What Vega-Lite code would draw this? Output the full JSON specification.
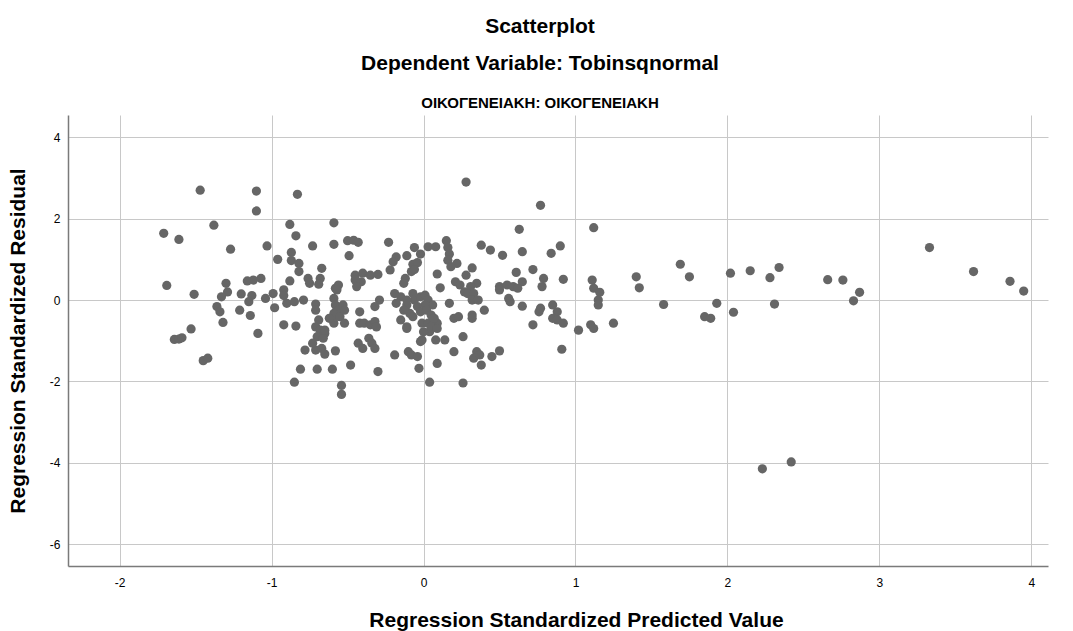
{
  "$schema": "https://vega.github.io/schema/vega-lite/v6.json",
  "width": 980,
  "height": 451,
  "autosize": {"type": "none"},
  "padding": {"left": 68, "top": 115, "right": 25, "bottom": 65},
  "background": "white",
  "config": {
    "view": {"stroke": null},
    "font": "Liberation Sans"
  },
  "title": {
    "text": ["Scatterplot", "Dependent Variable: Tobinsqnormal"],
    "subtitle": "ΟΙΚΟΓΕΝΕΙΑΚΗ: ΟΙΚΟΓΕΝΕΙΑΚΗ",
    "anchor": "middle",
    "dx": -18,
    "fontSize": 21,
    "fontWeight": "bold",
    "lineHeight": 37,
    "color": "#000000",
    "subtitleFontSize": 15,
    "subtitleFontWeight": "bold",
    "subtitleColor": "#000000",
    "subtitlePadding": 22,
    "offset": 4
  },
  "data": {
    "values": [
      {"x": -1.47, "y": 2.70}, {"x": -1.10, "y": 2.68}, {"x": -0.83, "y": 2.60}, {"x": -1.10, "y": 2.19},
      {"x": -1.38, "y": 1.84}, {"x": -1.71, "y": 1.64}, {"x": -1.61, "y": 1.49}, {"x": -0.88, "y": 1.86},
      {"x": -0.59, "y": 1.90}, {"x": -0.84, "y": 1.58}, {"x": -1.27, "y": 1.25}, {"x": -1.03, "y": 1.33},
      {"x": -0.73, "y": 1.33}, {"x": -0.59, "y": 1.37}, {"x": -0.96, "y": 1.00}, {"x": -0.87, "y": 1.17},
      {"x": -0.87, "y": 0.97}, {"x": -0.82, "y": 0.90}, {"x": -0.82, "y": 0.70}, {"x": -0.67, "y": 0.78},
      {"x": -0.76, "y": 0.53}, {"x": -0.75, "y": 0.41}, {"x": -0.68, "y": 0.53}, {"x": -0.69, "y": 0.39},
      {"x": -0.88, "y": 0.47}, {"x": -1.69, "y": 0.36}, {"x": -1.30, "y": 0.41}, {"x": -1.16, "y": 0.47},
      {"x": -1.12, "y": 0.49}, {"x": -1.07, "y": 0.53}, {"x": -1.29, "y": 0.20}, {"x": -1.33, "y": 0.08},
      {"x": -1.51, "y": 0.14}, {"x": -1.20, "y": 0.15}, {"x": -1.13, "y": 0.11}, {"x": -1.15, "y": -0.04},
      {"x": -1.04, "y": 0.04}, {"x": -0.99, "y": 0.16}, {"x": -0.92, "y": 0.25}, {"x": -0.92, "y": 0.11},
      {"x": -0.90, "y": -0.08}, {"x": -0.85, "y": -0.04}, {"x": -0.79, "y": 0.00}, {"x": -0.58, "y": 0.29},
      {"x": -0.59, "y": 0.04}, {"x": -1.36, "y": -0.16}, {"x": -1.34, "y": -0.29}, {"x": -1.21, "y": -0.25},
      {"x": -0.98, "y": -0.19}, {"x": -1.14, "y": -0.38}, {"x": -0.71, "y": -0.10}, {"x": -0.71, "y": -0.25},
      {"x": -1.32, "y": -0.55}, {"x": -0.92, "y": -0.61}, {"x": -0.84, "y": -0.64}, {"x": -1.53, "y": -0.71},
      {"x": -1.09, "y": -0.82}, {"x": -1.64, "y": -0.97}, {"x": -1.61, "y": -0.96}, {"x": -1.59, "y": -0.93},
      {"x": -0.69, "y": -0.49}, {"x": -0.71, "y": -0.66}, {"x": -0.68, "y": -0.74}, {"x": -0.65, "y": -0.82},
      {"x": -0.70, "y": -0.90}, {"x": -0.66, "y": -0.94}, {"x": -0.59, "y": -0.57}, {"x": -0.58, "y": -0.41},
      {"x": -1.45, "y": -1.49}, {"x": -1.42, "y": -1.43}, {"x": -0.78, "y": -1.23}, {"x": -0.71, "y": -1.23},
      {"x": -0.67, "y": -1.19}, {"x": -0.65, "y": -1.33}, {"x": -0.58, "y": -1.25}, {"x": -0.81, "y": -1.70},
      {"x": -0.70, "y": -1.70}, {"x": -0.60, "y": -1.70}, {"x": -0.85, "y": -2.02}, {"x": -0.73, "y": -1.06},
      {"x": -0.65, "y": -0.74},
      {"x": -0.58, "y": -0.12}, {"x": -0.53, "y": -0.12}, {"x": -0.56, "y": -0.25}, {"x": -0.59, "y": -0.33},
      {"x": -0.55, "y": -0.41}, {"x": -0.62, "y": -0.45}, {"x": -0.52, "y": -0.57}, {"x": -0.52, "y": -0.25},
      {"x": -0.42, "y": -0.29}, {"x": -0.32, "y": -0.16}, {"x": -0.29, "y": 0.00}, {"x": -0.42, "y": -0.57},
      {"x": -0.39, "y": -0.57}, {"x": -0.35, "y": -0.61}, {"x": -0.32, "y": -0.53}, {"x": -0.31, "y": -0.66},
      {"x": -0.43, "y": -1.06}, {"x": -0.40, "y": -1.19}, {"x": -0.36, "y": -0.94}, {"x": -0.34, "y": -1.06},
      {"x": -0.32, "y": -1.19}, {"x": -0.48, "y": -1.60}, {"x": -0.30, "y": -1.76}, {"x": -0.54, "y": -2.10},
      {"x": -0.54, "y": -2.32},
      {"x": 0.28, "y": 2.90}, {"x": 0.77, "y": 2.33}, {"x": 0.63, "y": 1.74}, {"x": 1.12, "y": 1.78},
      {"x": -0.50, "y": 1.46}, {"x": -0.46, "y": 1.47}, {"x": -0.43, "y": 1.42}, {"x": -0.49, "y": 1.09},
      {"x": -0.23, "y": 1.42}, {"x": -0.06, "y": 1.29}, {"x": -0.02, "y": 1.13}, {"x": 0.03, "y": 1.31},
      {"x": 0.08, "y": 1.31}, {"x": 0.15, "y": 1.46}, {"x": 0.16, "y": 1.29}, {"x": 0.17, "y": 1.13},
      {"x": 0.16, "y": 0.98}, {"x": 0.38, "y": 1.35}, {"x": 0.44, "y": 1.23}, {"x": 0.52, "y": 1.10},
      {"x": 0.65, "y": 1.19}, {"x": 0.84, "y": 1.15}, {"x": 0.90, "y": 1.33}, {"x": -0.18, "y": 1.06},
      {"x": -0.20, "y": 0.94}, {"x": -0.22, "y": 0.74}, {"x": -0.11, "y": 1.09}, {"x": -0.07, "y": 0.88},
      {"x": -0.04, "y": 0.92}, {"x": 0.22, "y": 0.90}, {"x": 0.18, "y": 0.82}, {"x": 0.32, "y": 0.79},
      {"x": 0.28, "y": 0.61}, {"x": -0.56, "y": 0.37}, {"x": -0.57, "y": 0.25}, {"x": -0.45, "y": 0.61},
      {"x": -0.40, "y": 0.66}, {"x": -0.35, "y": 0.61}, {"x": -0.30, "y": 0.63}, {"x": -0.45, "y": 0.49},
      {"x": -0.41, "y": 0.45}, {"x": -0.44, "y": 0.33}, {"x": -0.12, "y": 0.53}, {"x": -0.13, "y": 0.41},
      {"x": -0.08, "y": 0.70}, {"x": -0.06, "y": 0.75}, {"x": 0.09, "y": 0.64}, {"x": 0.11, "y": 0.30},
      {"x": 0.21, "y": 0.45}, {"x": 0.24, "y": 0.37}, {"x": 0.35, "y": 0.41}, {"x": 0.31, "y": 0.33},
      {"x": 0.27, "y": 0.20}, {"x": 0.29, "y": 0.16}, {"x": 0.61, "y": 0.68}, {"x": 0.65, "y": 0.45},
      {"x": 0.50, "y": 0.33}, {"x": 0.55, "y": 0.37}, {"x": 0.59, "y": 0.33}, {"x": 0.62, "y": 0.29},
      {"x": 0.72, "y": 0.75}, {"x": 0.79, "y": 0.53}, {"x": 0.78, "y": 0.33}, {"x": 0.92, "y": 0.51},
      {"x": 1.11, "y": 0.49}, {"x": 1.12, "y": 0.29},
      {"x": -0.19, "y": 0.16}, {"x": -0.15, "y": 0.08}, {"x": -0.18, "y": -0.08}, {"x": -0.11, "y": -0.12},
      {"x": -0.07, "y": 0.16}, {"x": -0.06, "y": 0.00}, {"x": -0.02, "y": 0.08}, {"x": 0.01, "y": 0.12},
      {"x": 0.03, "y": 0.00}, {"x": 0.06, "y": -0.12}, {"x": 0.01, "y": -0.12}, {"x": -0.04, "y": -0.16},
      {"x": -0.09, "y": -0.33}, {"x": -0.07, "y": -0.41}, {"x": -0.02, "y": -0.29}, {"x": 0.02, "y": -0.25},
      {"x": 0.05, "y": -0.37}, {"x": -0.15, "y": -0.49}, {"x": -0.11, "y": -0.66}, {"x": -0.01, "y": -0.57},
      {"x": 0.03, "y": -0.57}, {"x": 0.09, "y": -0.57}, {"x": 0.04, "y": -0.78}, {"x": 0.00, "y": -0.78},
      {"x": -0.02, "y": -1.02}, {"x": 0.08, "y": -0.98}, {"x": 0.14, "y": -0.98}, {"x": 0.17, "y": -0.08},
      {"x": 0.20, "y": -0.45}, {"x": 0.23, "y": -0.41}, {"x": -0.13, "y": -0.25}, {"x": -0.11, "y": 0.00},
      {"x": -0.11, "y": -0.70}, {"x": 0.07, "y": -0.45}, {"x": 0.05, "y": -0.65}, {"x": 0.09, "y": -0.70},
      {"x": -0.01, "y": -0.98},
      {"x": 0.32, "y": -0.37}, {"x": 0.32, "y": -0.45}, {"x": 0.40, "y": -0.25}, {"x": 0.26, "y": -0.90},
      {"x": 0.20, "y": -1.27}, {"x": 0.35, "y": -1.27}, {"x": 0.33, "y": -1.43}, {"x": 0.37, "y": -1.35},
      {"x": 0.38, "y": -1.60}, {"x": 0.45, "y": -1.39}, {"x": 0.50, "y": -1.25}, {"x": 0.56, "y": 0.04},
      {"x": 0.57, "y": -0.04}, {"x": 0.65, "y": -0.15}, {"x": 0.72, "y": -0.61}, {"x": 0.76, "y": -0.29},
      {"x": 0.77, "y": -0.20}, {"x": 0.85, "y": -0.12}, {"x": 0.88, "y": -0.29}, {"x": 0.85, "y": -0.45},
      {"x": 0.88, "y": -0.49}, {"x": 0.92, "y": -0.57}, {"x": 0.91, "y": -1.21}, {"x": 1.02, "y": -0.74},
      {"x": 1.10, "y": -0.61}, {"x": 1.12, "y": -0.70}, {"x": 1.25, "y": -0.57}, {"x": 0.04, "y": -2.02},
      {"x": 0.26, "y": -2.04}, {"x": -0.03, "y": -1.68}, {"x": 0.09, "y": -1.56}, {"x": -0.19, "y": -1.35},
      {"x": -0.10, "y": -1.27}, {"x": -0.08, "y": -1.35}, {"x": -0.04, "y": -1.39}, {"x": 0.33, "y": 0.16},
      {"x": 0.32, "y": 0.00}, {"x": 0.36, "y": 0.00}, {"x": 0.50, "y": 0.25},
      {"x": 1.16, "y": 0.19}, {"x": 1.15, "y": 0.00}, {"x": 1.15, "y": -0.12}, {"x": 1.40, "y": 0.57},
      {"x": 1.42, "y": 0.30}, {"x": 1.58, "y": -0.11}, {"x": 1.69, "y": 0.88}, {"x": 1.75, "y": 0.57},
      {"x": 1.85, "y": -0.41}, {"x": 1.89, "y": -0.45}, {"x": 1.93, "y": -0.08}, {"x": 2.02, "y": 0.66},
      {"x": 2.04, "y": -0.30}, {"x": 2.15, "y": 0.72}, {"x": 2.28, "y": 0.55}, {"x": 2.34, "y": 0.80},
      {"x": 2.31, "y": -0.10}, {"x": 2.66, "y": 0.50}, {"x": 2.76, "y": 0.49}, {"x": 2.87, "y": 0.19},
      {"x": 2.83, "y": -0.02}, {"x": 3.33, "y": 1.29}, {"x": 3.62, "y": 0.70}, {"x": 3.86, "y": 0.46},
      {"x": 3.95, "y": 0.22}, {"x": 2.23, "y": -4.15}, {"x": 2.42, "y": -3.98}
    ]
  },
  "mark": {"type": "circle", "size": 85, "opacity": 1, "color": "#666666"},
  "encoding": {
    "x": {
      "field": "x",
      "type": "quantitative",
      "scale": {"domain": [-2.34, 4.11], "nice": false, "zero": false},
      "axis": {
        "title": "Regression Standardized Predicted Value",
        "titleX": 508,
        "titleAlign": "center",
        "values": [-2, -1, 0, 1, 2, 3, 4],
        "labelExpr": "replace(datum.label, '−', '-')",
        "grid": true,
        "gridColor": "#c8c8c8",
        "gridWidth": 1,
        "domainColor": "#7a7a7a",
        "domainWidth": 1.5,
        "ticks": false,
        "labelPadding": 11,
        "labelFontSize": 12,
        "labelColor": "#000000",
        "titleFontSize": 21,
        "titleFontWeight": "bold",
        "titleColor": "#000000",
        "titlePadding": 21
      }
    },
    "y": {
      "field": "y",
      "type": "quantitative",
      "scale": {"domain": [-6.54, 4.55], "nice": false, "zero": false},
      "axis": {
        "title": "Regression Standardized Residual",
        "values": [-6, -4, -2, 0, 2, 4],
        "labelExpr": "replace(datum.label, '−', '-')",
        "grid": true,
        "gridColor": "#c8c8c8",
        "gridWidth": 1,
        "domainColor": "#7a7a7a",
        "domainWidth": 1.5,
        "ticks": false,
        "labelPadding": 8,
        "labelFontSize": 12,
        "labelColor": "#000000",
        "titleFontSize": 21,
        "titleFontWeight": "bold",
        "titleColor": "#000000",
        "titlePadding": 21
      }
    }
  }
}
